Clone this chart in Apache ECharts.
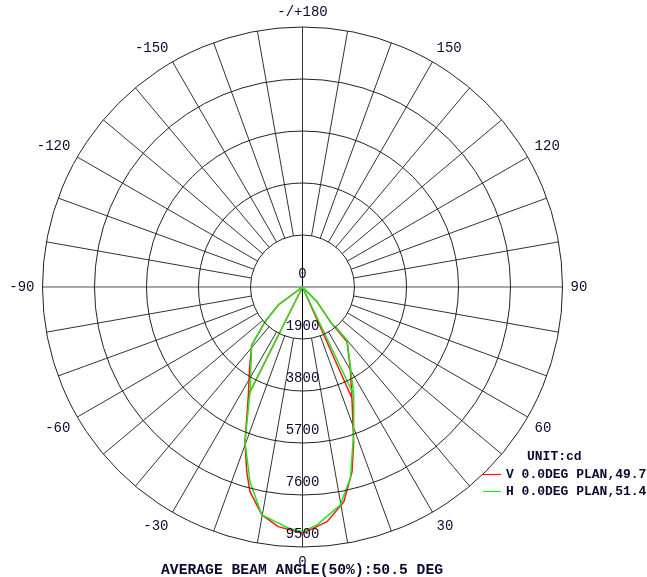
<!DOCTYPE html>
<html>
<head>
<meta charset="utf-8">
<script src="https://cdn.jsdelivr.net/npm/echarts@6/dist/echarts.min.js"></script>
<style>
  html, body { margin: 0; padding: 0; background: #fff; }
  #chart { width: 647px; height: 577px; }
</style>
</head>
<body>
<div id="chart"></div>
<script>
// V plane (red): gamma angle in degrees (0 = down, + to the right), intensity in cd
// the path runs: inner left edge -> centre -> outer left flank -> bottom -> right flank -> centre -> inner right edge
const vAngles = [-26.6, -26.6, -53.4, -47.2, -41.2, -32.6, -26.6, -20.4, -16.8, -14.4, -10.1, -5.8, 0, 6.0, 10.9, 15.0, 18.3, 24.0, 30.5, 39.1, 38.7, 44.6, 44.6, 24.0]
const vValues = [4415, 0, 1100, 1870, 2820, 3600, 4415, 6030, 7050, 7720, 8460, 8800, 9000, 8620, 7990, 6990, 5955, 4440, 3440, 2580, 1625, 750, 0, 4440]

// H plane (green)
const hAngles = [-26.6, -26.6, -53.4, -47.2, -41.2, -26.6, -20.4, -15.1, -10.1, -3.4, 0.1, 3.5, 9.8, 14.1, 19.5, 25.4, 35.5, 40.0, 38.7, 44.6, 44.6, 25.4]
const hValues = [4280, 0, 1100, 1870, 2820, 4280, 6030, 7370, 8460, 8820, 8940, 8710, 8090, 7190, 5610, 4370, 2900, 2530, 1625, 750, 0, 4370]

const seriesNames = ['V 0.0DEG PLAN,49.7', 'H 0.0DEG PLAN,51.4']
const ringStep = 1900
const ringMax = 9500
const angleLabelStep = 30

const FONT = "'Liberation Mono', 'Courier New', monospace"
const TEXT = '#0a0a30'
const CX = 302.5, CY = 287, R = 260

// polar 0 runs 0..360 starting at the bottom, so negative gammas wrap round
const toPolar = (angles, values) =>
  angles.map((a, i) => [values[i], a < 0 ? a + 360 : a])

// spokes every 10 deg; the -90/90 ones are hidden (grey line drawn separately)
const spokeColors = []
for (let i = 0; i < 18; i++) {
  spokeColors.push(i === 9 ? 'rgba(0,0,0,0)' : '#333')
}

let myChart = echarts.init(document.getElementById('chart'))
let option = {
  animation: false,
  backgroundColor: '#fff',
  title: [
    {
      text: 'UNIT:cd',
      left: 527,
      top: 450,
      padding: 0,
      textStyle: { fontFamily: FONT, fontSize: 13, fontWeight: 'bold', color: TEXT }
    },
    {
      text: 'AVERAGE BEAM ANGLE(50%):50.5 DEG',
      left: 161,
      top: 563,
      padding: 0,
      textStyle: { fontFamily: FONT, fontSize: 14.7, fontWeight: 'bold', color: TEXT }
    }
  ],
  legend: {
    orient: 'vertical',
    left: 483,
    top: 467,
    icon: 'rect',
    itemWidth: 18,
    itemHeight: 1.2,
    itemGap: 2,
    padding: 0,
    textStyle: { fontFamily: FONT, fontSize: 13, fontWeight: 'bold', color: TEXT, lineHeight: 15 },
    data: seriesNames
  },
  polar: [
    { center: [CX, CY], radius: [0, R] },   // data, rings, vertical line
    { center: [CX, CY], radius: [52, R] },  // spokes + angle labels
    { center: [CX, CY], radius: [0, R] }    // grey horizontal line
  ],
  angleAxis: [
    {
      polarIndex: 0,
      type: 'value',
      min: 0,
      max: 360,
      interval: 180,
      startAngle: 270,
      clockwise: false,
      axisLine: { show: false },
      axisTick: { show: false },
      axisLabel: { show: false },
      splitLine: { show: true, lineStyle: { color: '#000', width: 1 } }
    },
    {
      polarIndex: 1,
      type: 'value',
      min: -180,
      max: 180,
      interval: 10,
      startAngle: 90,
      clockwise: false,
      axisLine: { show: false },
      axisTick: { show: false },
      axisLabel: {
        margin: 8,
        fontFamily: FONT,
        fontSize: 14,
        color: TEXT,
        formatter: function(v) {
          if (v % angleLabelStep !== 0 || v === 180) return ''
          if (v === -180) return '-/+180'
          return String(v)
        }
      },
      splitLine: { show: true, lineStyle: { color: spokeColors, width: 1 } }
    },
    {
      polarIndex: 2,
      type: 'value',
      min: 0,
      max: 360,
      interval: 180,
      startAngle: 0,
      clockwise: false,
      axisLine: { show: false },
      axisTick: { show: false },
      axisLabel: { show: false },
      splitLine: { show: true, lineStyle: { color: '#a8a8a8', width: 2 } }
    }
  ],
  radiusAxis: [
    {
      polarIndex: 0,
      type: 'value',
      min: 0,
      max: ringMax,
      interval: ringStep,
      axisLine: { show: false },
      axisTick: { show: false },
      splitLine: { show: true, lineStyle: { color: '#222', width: 1 } },
      axisLabel: {
        margin: 0,
        align: 'center',
        verticalAlign: 'bottom',
        padding: [0, 0, 6, 0],
        fontFamily: FONT,
        fontSize: 14,
        color: TEXT,
        formatter: function(v) {
          return String(v)
        }
      },
      z: 5
    },
    { polarIndex: 1, type: 'value', min: 0, max: 1, show: false },
    { polarIndex: 2, type: 'value', min: 0, max: 1, show: false }
  ],
  series: [
    {
      name: seriesNames[0],
      type: 'line',
      coordinateSystem: 'polar',
      polarIndex: 0,
      symbol: 'none',
      clip: false,
      lineStyle: { color: '#ff1414', width: 1.5 },
      itemStyle: { color: '#ff1414' },
      data: toPolar(vAngles, vValues),
      z: 3
    },
    {
      name: seriesNames[1],
      type: 'line',
      coordinateSystem: 'polar',
      polarIndex: 0,
      symbol: 'none',
      clip: false,
      lineStyle: { color: '#22e622', width: 1.5 },
      itemStyle: { color: '#22e622' },
      data: toPolar(hAngles, hValues),
      z: 4
    }
  ]
}
myChart.setOption(option)
</script>
</body>
</html>
